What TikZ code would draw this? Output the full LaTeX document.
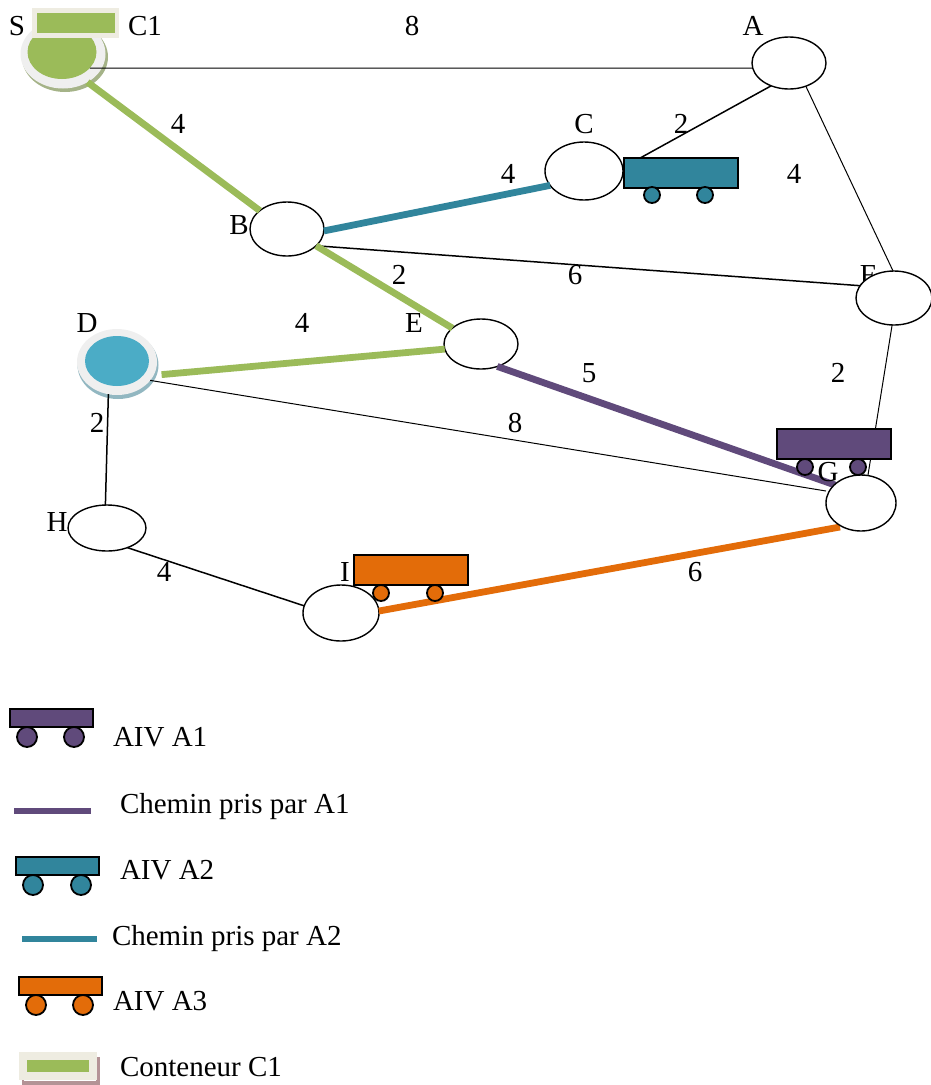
\documentclass[tikz,border=0pt]{standalone}
\usepackage{fontspec}
\setmainfont{Liberation Serif}
\usetikzlibrary{shapes.geometric}
\definecolor{cgreen}{HTML}{9BBB59}
\definecolor{cteal}{HTML}{31859C}
\definecolor{cpurple}{HTML}{604A7B}
\definecolor{corange}{HTML}{E36C09}
\definecolor{cblue}{HTML}{4BACC6}
\definecolor{ccream}{HTML}{EEECE1}
\definecolor{cring}{HTML}{EFEFEF}
\tikzset{
  x=1pt,y=-1pt,
  station/.style={ellipse,draw=black,line width=1.4pt,fill=white,inner sep=0pt,outer sep=0pt},
  ringnode/.style={ellipse,fill=cring,inner sep=0pt,outer sep=0pt},
  discnode/.style={ellipse,inner sep=0pt,outer sep=0pt},
  shadownode/.style={ellipse,inner sep=0pt,outer sep=0pt},
  lab/.style={font=\fontsize{29}{29}\selectfont,inner sep=0pt,outer sep=0pt,anchor=base,text=black,yshift=-0.8pt},
  leg/.style={font=\fontsize{29}{29}\selectfont,inner sep=0pt,outer sep=0pt,anchor=base west,text=black,yshift=-0.8pt},
  thinline/.style={line width=1pt,black},
  midline/.style={line width=1.5pt,black},
  thickline/.style={line width=6.8pt},
  body/.style={rectangle,draw=black,line width=2pt,inner sep=0pt,outer sep=0pt},
  wheelbig/.style={circle,draw=black,line width=1.8pt,minimum size=20pt,inner sep=0pt},
  wheelsmall/.style={circle,draw=black,line width=1.8pt,minimum size=16pt,inner sep=0pt},
  plainbox/.style={rectangle,inner sep=0pt,outer sep=0pt},
}
\begin{document}
\begin{tikzpicture}
\useasboundingbox (0,0) rectangle (931,1085);
% Source and D discs
\node[shadownode,fill=cgreen!55!gray!80,minimum width=86pt,minimum height=70pt] (Ss) at (65,57) {};
\node[ringnode,minimum width=85pt,minimum height=69pt] (S) at (63,54) {};
\node[discnode,fill=cgreen,minimum width=69pt,minimum height=54pt] (Si) at (62,52) {};
\node[shadownode,fill=cblue!55!gray!70,minimum width=81pt,minimum height=68pt] (Ds) at (118,365) {};
\node[ringnode,minimum width=80pt,minimum height=66pt] (D) at (117,362) {};
\node[discnode,fill=cblue,minimum width=64pt,minimum height=50pt] (Di) at (117,361) {};
% Label hidden partly by F
\node[lab] (lF) at (868,284) {F};
% Stations
\node[station,minimum width=74pt,minimum height=52pt] (A) at (789,63) {};
\node[station,minimum width=78pt,minimum height=58pt] (C) at (584,171) {};
\node[station,minimum width=74pt,minimum height=54pt] (B) at (287,229) {};
\node[station,minimum width=76pt,minimum height=54pt] (F) at (894,298) {};
\node[station,minimum width=74pt,minimum height=50pt] (E) at (481,344) {};
\node[station,minimum width=78pt,minimum height=46pt] (H) at (107,528) {};
\node[station,minimum width=76pt,minimum height=56pt] (I) at (341,613) {};
% Connectors
\draw[thinline] (Si.-30) -- (A.188);
\draw[thinline] (A.-54) -- (F.92);
\draw[thinline] (F.-94) -- (868,475) coordinate (gtop);
\draw[thinline] (D.-29) -- (826,491) coordinate (gleft);
\draw[midline] (C.5) -- (A.232);
\draw[midline] (B.-30) -- (F.160);
\draw[midline] (D.-105) -- (H.94);
\draw[midline] (H.-44) -- (I.169);
\draw[thickline,cgreen] (S.-49) -- (B.146);
\draw[thickline,cgreen] (B.-30) -- (E.151);
\draw[thickline,cgreen,shorten <=8pt] (D.-20) -- (E.188);
\draw[thickline,cteal] (B.-3) -- (C.203);
\draw[thickline,cpurple] (E.-54) -- (835,485) coordinate (gpur);
\draw[thickline,corange] (I.3) -- (840,527) coordinate (gor);
% G on top
\node[station,minimum width=70pt,minimum height=56pt] (G) at (861,503) {};
% Wagons on the graph
\node[body,fill=cteal,minimum width=114pt,minimum height=30pt] (wC) at (680.5,172.5) {};
\node[wheelsmall,fill=cteal] (wC1) at (652,195) {};
\node[wheelsmall,fill=cteal] (wC2) at (705,195) {};
\node[wheelsmall,fill=cpurple] (wG1) at (805,467) {};
\node[wheelsmall,fill=cpurple] (wG2) at (858,467) {};
\node[body,fill=cpurple,minimum width=114pt,minimum height=30pt] (wG) at (833.5,443.5) {};
\node[wheelsmall,fill=corange] (wI1) at (381,593) {};
\node[wheelsmall,fill=corange] (wI2) at (435,593) {};
\node[body,fill=corange,minimum width=114pt,minimum height=30pt] (wI) at (410.5,569.5) {};
% C1 container at S
\node[plainbox,fill=ccream,minimum width=87pt,minimum height=30pt] (cS) at (75.5,23) {};
\node[plainbox,fill=cgreen,minimum width=78pt,minimum height=20pt] (cSi) at (76,23) {};
% Labels
\node[lab] (lS) at (17,35) {S};
\node[lab] (lC1) at (145,35) {C1};
\node[lab] (l8a) at (412,35) {8};
\node[lab] (lA) at (753,35) {A};
\node[lab] (l4a) at (178,133) {4};
\node[lab] (lC) at (584,133) {C};
\node[lab] (l2a) at (681,133) {2};
\node[lab] (l4b) at (508,183) {4};
\node[lab] (l4c) at (794,183) {4};
\node[lab] (lB) at (239,234) {B};
\node[lab] (l2b) at (399,284) {2};
\node[lab] (l6a) at (575,284) {6};
\node[lab] (lD) at (87,332) {D};
\node[lab] (l4d) at (302,332) {4};
\node[lab] (lE) at (414,332) {E};
\node[lab] (l5) at (589,382) {5};
\node[lab] (l2c) at (838,382) {2};
\node[lab] (l2d) at (97,432) {2};
\node[lab] (l8b) at (515,432) {8};
\node[lab] (lG) at (828,481) {G};
\node[lab] (lH) at (57,531) {H};
\node[lab] (l4e) at (164,581) {4};
\node[lab] (lI) at (345,581) {I};
\node[lab] (l6b) at (695,581) {6};
% Legend
\node[wheelbig,fill=cpurple] (k1a) at (27,737) {};
\node[wheelbig,fill=cpurple] (k1b) at (74,737) {};
\node[body,fill=cpurple,minimum width=83pt,minimum height=18pt] (k1) at (51,717.5) {};
\node[leg] (t1) at (113,746) {AIV A1};
\coordinate (p1a) at (14,811); \coordinate (p1b) at (91,811);
\draw[thickline,cpurple] (p1a) -- (p1b);
\node[leg] (t2) at (120,813) {Chemin pris par A1};
\node[wheelbig,fill=cteal] (k2a) at (33,885) {};
\node[wheelbig,fill=cteal] (k2b) at (81,885) {};
\node[body,fill=cteal,minimum width=83pt,minimum height=18pt] (k2) at (57,865.5) {};
\node[leg] (t3) at (120,879) {AIV A2};
\coordinate (p2a) at (22,939); \coordinate (p2b) at (97,939);
\draw[thickline,cteal] (p2a) -- (p2b);
\node[leg] (t4) at (112,945) {Chemin pris par A2};
\node[wheelbig,fill=corange] (k3a) at (36,1005) {};
\node[wheelbig,fill=corange] (k3b) at (83,1005) {};
\node[body,fill=corange,minimum width=83pt,minimum height=18pt] (k3) at (60,985.5) {};
\node[leg] (t5) at (113,1010) {AIV A3};
\node[plainbox,fill=cpurple!30!red!25!gray!70,minimum width=78pt,minimum height=28pt] (k4s) at (61,1071) {};
\node[plainbox,fill=white,minimum width=72pt,minimum height=26pt] (k4w) at (60,1068) {};
\node[plainbox,fill=ccream,minimum width=78pt,minimum height=28pt] (k4) at (58,1066) {};
\node[plainbox,fill=cgreen,minimum width=62pt,minimum height=12pt] (k4i) at (58,1066) {};
\node[leg] (t6) at (120,1076) {Conteneur C1};
\end{tikzpicture}
\end{document}
